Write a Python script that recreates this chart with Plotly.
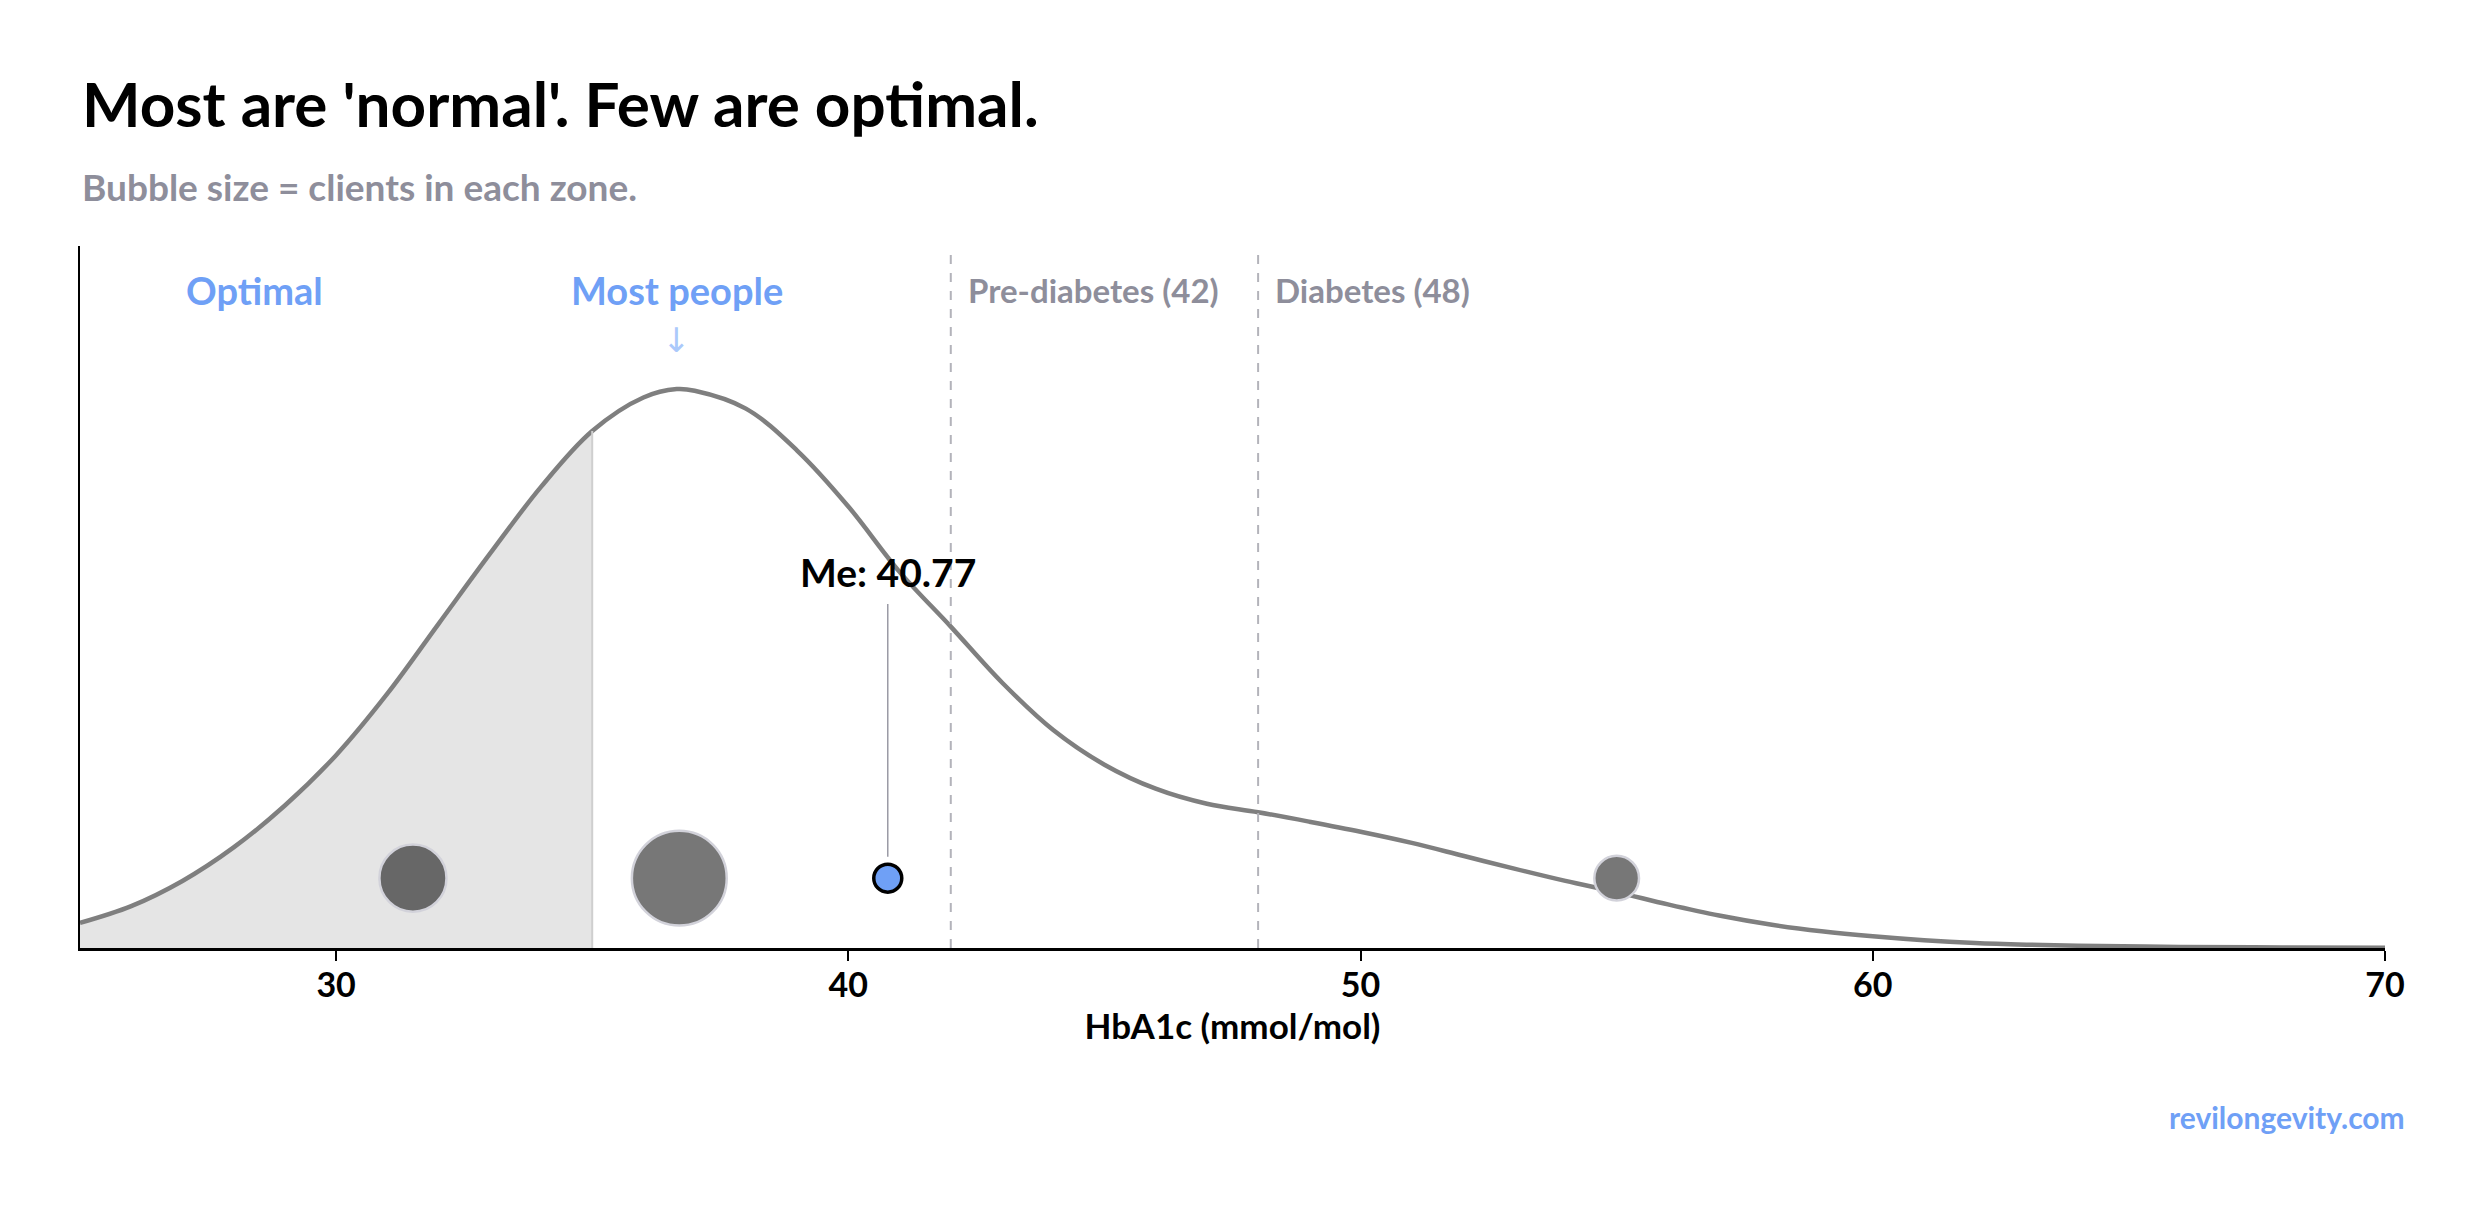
import plotly.graph_objects as go

# HbA1c density curve (peak = 1)
curve_x = [25, 26, 27, 28, 29, 30, 31, 32, 33, 34, 35, 36, 36.65, 37, 38, 39, 40, 41, 42,
           43, 44, 45, 46, 47, 48, 49, 50, 51, 52, 53, 54, 55, 56, 57, 58, 59, 60,
           61, 62, 63, 64, 66, 68, 70]
curve_y = [0.045, 0.075, 0.12, 0.18, 0.255, 0.345, 0.455, 0.58, 0.705, 0.825, 0.925, 0.985, 1.0,
           0.997, 0.965, 0.89, 0.79, 0.673, 0.575, 0.475, 0.39, 0.328, 0.285, 0.258, 0.243,
           0.226, 0.208, 0.188, 0.165, 0.142, 0.12, 0.10, 0.078, 0.058, 0.042, 0.03, 0.021,
           0.014, 0.009, 0.006, 0.004, 0.002, 0.001, 0.0005]

optimal_max = 35
prediabetes = 42
diabetes = 48

# clients per zone (bubble area)
zone_x = [31.5, 36.7, 55.0]
zone_clients = [9, 18, 4]
zone_colors = ["#676767", "#777777", "#777777"]
bubble_y = 0.125

me_value = 40.77
peak_x = 36.65

BLUE = "#6fa0f6"
GREY_TXT = "#8e8e9b"
FONT = "Lato"


def bold(size, color):
    return dict(family=FONT, size=size, color=color, weight="bold")


fig = go.Figure()

shade_x = [x for x in curve_x if x <= optimal_max]
shade_y = curve_y[:len(shade_x)]
fig.add_trace(go.Scatter(x=shade_x, y=shade_y, mode="lines", fill="tozeroy",
                         fillcolor="#e5e5e5", line=dict(width=0, shape="spline"),
                         hoverinfo="skip"))
fig.add_shape(type="line", x0=optimal_max, x1=optimal_max, y0=0, y1=shade_y[-1],
              line=dict(color="#cfcfcf", width=2))

fig.add_trace(go.Scatter(x=curve_x, y=curve_y, mode="lines",
                         line=dict(color="#7f7f7f", width=4.5, shape="spline")))

for xv in [prediabetes, diabetes]:
    fig.add_shape(type="line", x0=xv, x1=xv, y0=0, y1=1, yref="paper",
                  line=dict(color="#b3b3ba", width=2, dash="dash"))

fig.add_trace(go.Scatter(x=zone_x, y=[bubble_y] * len(zone_x), mode="markers",
                         marker=dict(size=zone_clients, sizemode="area", sizeref=0.004,
                                     color=zone_colors, opacity=1,
                                     line=dict(color="#d2d2da", width=2.5))))

# me
fig.add_shape(type="line", x0=me_value, x1=me_value, y0=0.49, y1=0.13, yref="paper",
              line=dict(color="#9a9aa5", width=1.5))
fig.add_trace(go.Scatter(x=[me_value], y=[bubble_y], mode="markers",
                         marker=dict(size=28, color=BLUE, opacity=1,
                                     line=dict(color="black", width=3.5))))
fig.add_annotation(x=me_value, y=0.536, yref="paper", yanchor="middle",
                   text="Me: %.2f" % me_value, showarrow=False, font=bold(39, "black"))

# zone labels
fig.add_annotation(x=28.4, y=0.937, yref="paper", yanchor="middle", text="Optimal",
                   showarrow=False, font=bold(38, BLUE))
fig.add_annotation(x=peak_x, y=0.937, yref="paper", yanchor="middle", text="Most people",
                   showarrow=False, font=bold(38, BLUE))
fig.add_annotation(x=peak_x, y=0.866, yref="paper", yanchor="middle", text="↓",
                   showarrow=False, font=dict(family="DejaVu Sans", size=34, color="#abc9fb"))
fig.add_annotation(x=prediabetes + 0.3, y=0.937, yref="paper", xanchor="left", yanchor="middle",
                   text="Pre-diabetes (%d)" % prediabetes, showarrow=False,
                   font=bold(33, GREY_TXT))
fig.add_annotation(x=diabetes + 0.3, y=0.937, yref="paper", xanchor="left", yanchor="middle",
                   text="Diabetes (%d)" % diabetes, showarrow=False,
                   font=bold(33, GREY_TXT))

# titles
fig.add_annotation(x=0, y=1.204, xref="paper", yref="paper", xanchor="left", yanchor="middle",
                   text="Most are 'normal'. Few are optimal.", showarrow=False,
                   font=bold(62, "black"))
fig.add_annotation(x=0, y=1.085, xref="paper", yref="paper", xanchor="left", yanchor="middle",
                   text="Bubble size = clients in each zone.", showarrow=False,
                   font=bold(37, GREY_TXT))
fig.add_annotation(x=1.0095, y=-0.241, xref="paper", yref="paper", xanchor="right",
                   yanchor="middle", text="revilongevity.com", showarrow=False,
                   font=bold(30, BLUE))

fig.update_layout(
    width=2472, height=1198,
    margin=dict(l=72, r=95, t=238, b=258),
    plot_bgcolor="white", paper_bgcolor="white",
    showlegend=False,
    font=dict(family=FONT),
    xaxis=dict(range=[25, 70], tickvals=[30, 40, 50, 60, 70], showgrid=False, zeroline=False,
               showline=True, linecolor="black", linewidth=3,
               ticks="outside", ticklen=10, tickwidth=2, tickcolor="black",
               ticklabelstandoff=-5,
               tickfont=bold(34, "black"),
               title=dict(text="HbA1c (mmol/mol)", standoff=10, font=bold(35, "black"))),
    yaxis=dict(range=[0, 1.256], showgrid=False, zeroline=False, showticklabels=False,
               showline=True, linecolor="black", linewidth=1.5, ticks=""),
)

fig.write_html("out.html")
